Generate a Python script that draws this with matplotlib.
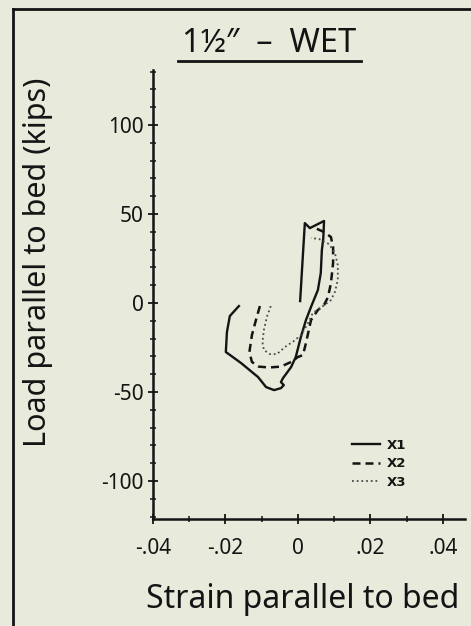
import matplotlib
matplotlib.use("Agg")
import matplotlib.pyplot as plt
from matplotlib.lines import Line2D

# Load-strain response, specimen 1 1/2" wet (strain, kips)
x1_strain = [-0.0163, -0.0188, -0.0196, -0.0199, -0.0157, -0.0110, -0.0088, -0.0066,
             -0.0047, -0.0039, -0.0047, -0.0041, -0.0019, -0.0006, 0.0008, 0.0022,
             0.0036, 0.0055, 0.0063, 0.0066, 0.0070, 0.0072, 0.0033, 0.0019, 0.0006]
x1_load = [-1.7, -7.3, -16.3, -27.5, -33.7, -41.6, -47.2, -48.9,
           -47.8, -46.1, -44.4, -42.1, -36.0, -30.3, -19.1, -9.6,
           -2.2, 7.3, 16.9, 29.8, 36.5, 46.1, 42.1, 44.9, 1.1]

x2_strain = [-0.0105, -0.0116, -0.0127, -0.0134, -0.0127, -0.0108, -0.0080, -0.0047,
             -0.0019, 0.0000, 0.0014, 0.0022, 0.0030, 0.0036, 0.0055, 0.0072,
             0.0083, 0.0091, 0.0097, 0.0097, 0.0091, 0.0072, 0.0041]
x2_load = [-1.7, -9.6, -18.0, -27.5, -33.1, -35.7, -36.2, -35.7,
           -33.1, -30.3, -29.2, -22.5, -15.2, -9.6, -3.9, -1.1,
           3.4, 11.2, 22.5, 31.5, 37.1, 39.9, 42.7]

x3_strain = [-0.0075, -0.0086, -0.0094, -0.0098, -0.0094, -0.0077, -0.0058, -0.0036,
             -0.0011, 0.0008, 0.0025, 0.0041, 0.0069, 0.0091, 0.0102, 0.0110,
             0.0110, 0.0102, 0.0086, 0.0058, 0.0036]
x3_load = [-1.7, -7.9, -15.2, -21.9, -26.4, -28.7, -28.7, -24.7,
           -21.3, -18.0, -12.4, -5.6, -1.7, 1.7, 6.2, 12.9,
           21.3, 28.1, 33.1, 36.0, 36.5]

series_names = ["X1", "X2", "X3"]
x_ticks = [-0.04, -0.02, 0, 0.02, 0.04]
x_tick_labels = ["-.04", "-.02", "0", ".02", ".04"]
y_ticks = [-100, -50, 0, 50, 100]
y_tick_labels = ["-100", "-50", "0", "50", "100"]

W, H = 471, 626
BG = "#e8eadb"
INK = "#141414"
FONT = ["Noto Sans", "DejaVu Sans"]

fig = plt.figure(figsize=(W / 100, H / 100), dpi=100, facecolor=BG)

def fx(px):
    return px / W

def fy(py):
    return 1 - py / H

# outer frame (top and left edges)
fig.add_artist(Line2D([fx(13), 1.0], [fy(9), fy(9)], color=INK, lw=2.0))
fig.add_artist(Line2D([fx(13), fx(13)], [fy(9), 0.0], color=INK, lw=2.0))

ax = fig.add_axes([fx(153), fy(519), fx(465) - fx(153), fy(70) - fy(519)])
ax.set_facecolor(BG)
ax.set_xlim(-0.04, 0.0461)
ax.set_ylim(-121.3, 130.9)
for s in ("top", "right"):
    ax.spines[s].set_visible(False)
for s in ("left", "bottom"):
    ax.spines[s].set_color(INK)
    ax.spines[s].set_linewidth(1.8)

ax.set_xticks(x_ticks)
ax.set_xticklabels(x_tick_labels)
ax.set_xticks([-0.03, -0.01, 0.01, 0.03], minor=True)
ax.set_yticks(y_ticks)
ax.set_yticklabels(y_tick_labels)
ax.set_yticks([v for v in range(-120, 131, 10) if v % 50 != 0], minor=True)
ax.tick_params(axis="both", which="major", direction="inout", length=7, width=1.3,
               color=INK, labelcolor=INK, labelsize=15)
ax.tick_params(axis="both", which="minor", direction="inout", length=5, width=1.1, color=INK)
ax.tick_params(axis="x", which="major", pad=10)
ax.tick_params(axis="y", which="major", pad=3)
for lab in ax.get_xticklabels() + ax.get_yticklabels():
    lab.set_family(FONT)

ax.plot(x1_strain, x1_load, color=INK, lw=1.7, ls="-", label=series_names[0])
ax.plot(x2_strain, x2_load, color=INK, lw=1.8, ls=(0, (3.2, 2.0)), label=series_names[1])
ax.plot(x3_strain, x3_load, color="#4a4a4a", lw=1.3, ls=(0, (1.0, 1.6)), label=series_names[2])

leg = ax.legend(loc="upper left", bbox_to_anchor=(fx(352), fy(439)),
                bbox_transform=fig.transFigure, frameon=False, borderpad=0,
                borderaxespad=0, handlelength=2.1, handletextpad=0.5,
                labelspacing=0.4,
                prop={"family": "DejaVu Sans", "weight": "bold", "size": 9.5})
for t in leg.get_texts():
    t.set_color(INK)

fig.text(fx(269), fy(44), "1½\u2033  –  WET", ha="center", va="center",
         fontsize=23.5, family=FONT, color=INK)
fig.add_artist(Line2D([fx(178), fx(361)], [fy(61), fy(61)], color=INK, lw=2.0))

fig.text(fx(38), fy(262), "Load parallel to bed (kips)", rotation=90,
         ha="center", va="center", fontsize=22, family=FONT, color=INK)
fig.text(fx(303), fy(600), "Strain parallel to bed", ha="center", va="center",
         fontsize=23, family=FONT, color=INK)

fig.savefig("out.png", dpi=100, facecolor=BG)
